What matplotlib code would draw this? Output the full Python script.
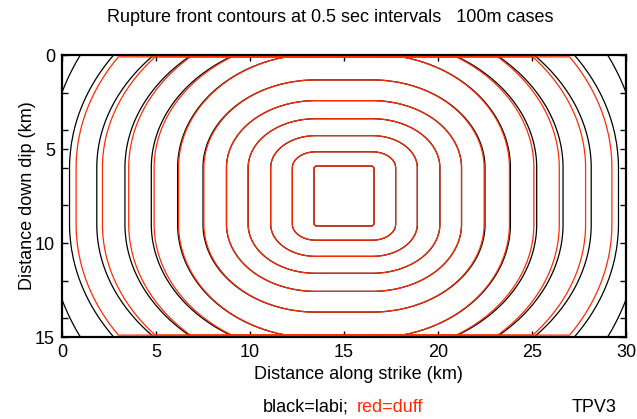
import numpy as np
import matplotlib
matplotlib.use("Agg")
import matplotlib.pyplot as plt
from matplotlib.ticker import MultipleLocator

plt.rcParams['font.family'] = ['Liberation Sans', 'DejaVu Sans']

# rupture front contours
# times of the contours (s), 0.5 s apart
labi_times = [0.5, 1.0, 1.5, 2.0, 2.5, 3.0, 3.5, 4.0, 4.5, 5.0, 5.5, 6.0]
duff_times = [0.5, 1.0, 1.5, 2.0, 2.5, 3.0, 3.5, 4.0, 4.5, 5.0, 5.5]
# distance of each front from the nucleation patch edge (km)
labi_strike_km = [0.05, 1.25, 2.4, 3.6, 4.75, 6.0, 7.35, 8.75, 10.15, 11.65, 13.1, 14.24]
labi_dip_km = [0.04, 0.85, 1.71, 2.61, 3.57, 4.67, 6.05, 6.9, 7.9, 8.9, 10.5, 12.6]
duff_strike_km = [0.05, 1.25, 2.4, 3.6, 4.75, 5.95, 7.3, 8.6, 9.95, 11.35, 12.75]
duff_dip_km = [0.04, 0.85, 1.71, 2.61, 3.57, 4.67, 6.05, 6.9, 7.95, 8.95, 10.4]

# fault plane and nucleation patch (km)
fault_length = 30.0
fault_width = 15.0
hypo_x, hypo_z = 15.0, 7.5
patch_half = 1.5
grid_step = 0.1          # 100m cases
duff_edge_flag = 99.0    # duff's top/bottom edge nodes never get a time

x = np.arange(0, fault_length + grid_step / 2, grid_step)
z = np.arange(0, fault_width + grid_step / 2, grid_step)


def arrival_time(times, strike_km, dip_km):
    """time field whose fronts pass through the read distances"""
    t_tab = np.concatenate([[0.0], times, [times[-1] + 2.0]])
    s_tab = np.concatenate([[1e-3], strike_km,
                            [strike_km[-1] + 4 * (strike_km[-1] - strike_km[-2])]])
    d_tab = np.concatenate([[1e-3], dip_km,
                            [dip_km[-1] + 4 * (dip_km[-1] - dip_km[-2])]])
    X, Z = np.meshgrid(x, z)
    dx = np.abs(X - hypo_x) - patch_half
    dz = np.abs(Z - hypo_z) - patch_half
    dxp = np.clip(dx, 0, None)
    dzp = np.clip(dz, 0, None)
    lo = np.zeros(X.shape)
    hi = np.full(X.shape, t_tab[-1])
    for _ in range(40):
        mid = 0.5 * (lo + hi)
        a = np.interp(mid, t_tab, s_tab)
        b = np.interp(mid, t_tab, d_tab)
        reached = (dxp / a) ** 2 + (dzp / b) ** 2 <= 1.0
        hi = np.where(reached, mid, hi)
        lo = np.where(reached, lo, mid)
    T = 0.5 * (lo + hi)
    inside = (dx < 0) & (dz < 0)
    T[inside] = 0.3 * np.maximum(dx, dz)[inside]
    return T


labi = arrival_time(labi_times, labi_strike_km, labi_dip_km)
duff = arrival_time(duff_times, duff_strike_km, duff_dip_km)
duff[0, :] = duff_edge_flag
duff[-1, :] = duff_edge_flag

red = '#ff2a00'

fig = plt.figure(figsize=(6.37, 4.19), dpi=100)
ax = fig.add_axes([62 / 637, 1 - 337 / 419, 564 / 637, 282 / 419])

ax.contour(x, z, labi, levels=labi_times, colors='black', linewidths=0.9, zorder=2)
ax.contour(x, z, duff, levels=duff_times, colors=red, linewidths=0.9, zorder=3)

ax.set_xlim(0, fault_length)
ax.set_ylim(fault_width, 0)
ax.xaxis.set_major_locator(MultipleLocator(5))
ax.yaxis.set_major_locator(MultipleLocator(5))
ax.yaxis.set_minor_locator(MultipleLocator(2))
ax.tick_params(which='both', direction='in', top=True, right=True,
               length=4, width=1, labelsize=13)
ax.tick_params(axis='x', pad=5)
ax.tick_params(axis='y', pad=5)
for sp in ax.spines.values():
    sp.set_linewidth(1.6)

fig.text(330 / 637, 1 - 18 / 419, 'Rupture front contours at 0.5 sec intervals   100m cases',
         ha='center', va='center', fontsize=13)
fig.text(358 / 637, 1 - 374 / 419, 'Distance along strike (km)',
         ha='center', va='center', fontsize=13)
fig.text(28 / 637, 1 - 196 / 419, 'Distance down dip (km)',
         ha='center', va='center', rotation=90, fontsize=13)
fig.text(263 / 637, 1 - 407 / 419, 'black=labi;', ha='left', va='center', fontsize=13)
fig.text(357 / 637, 1 - 407 / 419, 'red=duff', ha='left', va='center', fontsize=13, color=red)
fig.text(572 / 637, 1 - 407 / 419, 'TPV3', ha='left', va='center', fontsize=13)

fig.savefig('out.png', dpi=100)
